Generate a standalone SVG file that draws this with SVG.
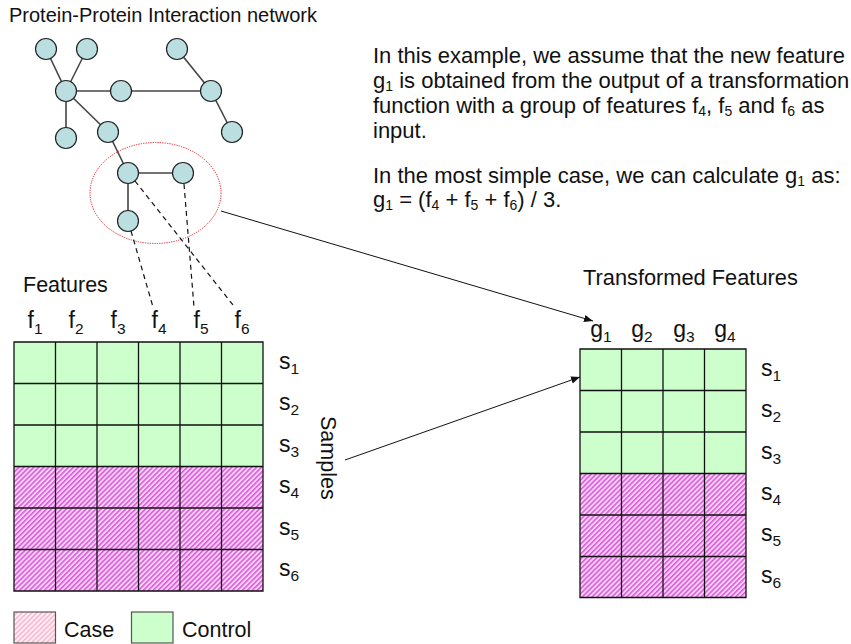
<svg xmlns="http://www.w3.org/2000/svg" width="851" height="644" viewBox="0 0 851 644">
<style>
text{font-family:"Liberation Sans",Arial,Helvetica,sans-serif;fill:#111}
.t21{font-size:21.5px}
.t22{font-size:22px}
.sub{font-size:14px}
.lsub{font-size:15.5px}
.lab{font-size:23px;text-anchor:middle}
.sl{font-size:23px}
.node{fill:#BBDFE1;stroke:#222;stroke-width:1.2}
.edge{stroke:#444;stroke-width:1.6;fill:none}
.dash{stroke:#111;stroke-width:1.2;stroke-dasharray:5,4;fill:none}
.ctrl{fill:#CCFFCC}
.case{fill:url(#hatch)}
.grid{stroke:#111;stroke-width:1.3;fill:none}
.arrow{stroke:#111;stroke-width:1;fill:none;marker-end:url(#ah)}
</style>
<defs>
<pattern id="hatch" width="3.5" height="3.5" patternUnits="userSpaceOnUse" patternTransform="rotate(45)">
<rect width="3.5" height="3.5" fill="#F8D4F8"/>
<line x1="0.8" y1="0" x2="0.8" y2="3.5" stroke="#DA48DA" stroke-width="1.4"/>
</pattern>
<pattern id="hatchL" width="3.5" height="3.5" patternUnits="userSpaceOnUse" patternTransform="rotate(45)">
<rect width="3.5" height="3.5" fill="#FFF2F7"/>
<line x1="0.8" y1="0" x2="0.8" y2="3.5" stroke="#FFA8C8" stroke-width="1.3"/>
</pattern>
<marker id="ah" viewBox="0 0 10 10" refX="10" refY="5" markerWidth="9" markerHeight="9" markerUnits="userSpaceOnUse" orient="auto">
<path d="M0,1 L10,5 L0,9 Z" fill="#111"/>
</marker>
</defs>

<text id="title" x="9" y="22" style="font-size:20px">Protein-Protein Interaction network</text>

<g id="network-edges">
<line class="edge" x1="46" y1="49" x2="66" y2="91"/>
<line class="edge" x1="87" y1="49" x2="66" y2="91"/>
<line class="edge" x1="66" y1="91" x2="121" y2="91"/>
<line class="edge" x1="121" y1="91" x2="211" y2="91"/>
<line class="edge" x1="177" y1="49" x2="211" y2="91"/>
<line class="edge" x1="211" y1="91" x2="232" y2="132"/>
<line class="edge" x1="66" y1="91" x2="66" y2="138"/>
<line class="edge" x1="66" y1="91" x2="108" y2="132"/>
<line class="edge" x1="108" y1="132" x2="128" y2="173"/>
<line class="edge" x1="128" y1="173" x2="183" y2="173"/>
<line class="edge" x1="128" y1="173" x2="128" y2="221"/>
</g>
<g id="network-nodes">
<circle id="n1" class="node" cx="46" cy="49" r="10.5"/>
<circle id="n2" class="node" cx="87" cy="49" r="10.5"/>
<circle id="n3" class="node" cx="177" cy="49" r="10.5"/>
<circle id="n4" class="node" cx="66" cy="91" r="10.5"/>
<circle id="n5" class="node" cx="121" cy="91" r="10.5"/>
<circle id="n6" class="node" cx="211" cy="91" r="10.5"/>
<circle id="n7" class="node" cx="66" cy="138" r="10.5"/>
<circle id="n8" class="node" cx="108" cy="132" r="10.5"/>
<circle id="n9" class="node" cx="232" cy="132" r="10.5"/>
<circle id="n10" class="node" cx="128" cy="173" r="10.5"/>
<circle id="n11" class="node" cx="183" cy="173" r="10.5"/>
<circle id="n12" class="node" cx="128" cy="221" r="10.5"/>
</g>
<ellipse id="selection" cx="155.5" cy="193" rx="65.5" ry="50.5" fill="none" stroke="#E8161B" stroke-width="1" stroke-dasharray="1.2,1.2"/>

<g id="text-block">
<text class="t22" x="373" y="63">In this example, we assume that the new feature</text>
<text class="t22" x="373" y="88">g<tspan class="sub" dy="3">1</tspan><tspan dy="-3"> is obtained from the output of a transformation</tspan></text>
<text class="t22" x="373" y="113">function with a group of features f<tspan class="sub" dy="3">4</tspan><tspan dy="-3">, f</tspan><tspan class="sub" dy="3">5</tspan><tspan dy="-3"> and f</tspan><tspan class="sub" dy="3">6</tspan><tspan dy="-3"> as</tspan></text>
<text class="t22" x="373" y="138">input.</text>
<text class="t22" x="373" y="183">In the most simple case, we can calculate g<tspan class="sub" dy="3">1</tspan><tspan dy="-3"> as:</tspan></text>
<text class="t22" x="373" y="207">g<tspan class="sub" dy="3">1</tspan><tspan dy="-3"> = (f</tspan><tspan class="sub" dy="3">4</tspan><tspan dy="-3"> + f</tspan><tspan class="sub" dy="3">5</tspan><tspan dy="-3"> + f</tspan><tspan class="sub" dy="3">6</tspan><tspan dy="-3">) / 3.</tspan></text>
</g>

<g id="features-matrix">
<text class="t21" x="23" y="292">Features</text>
<text class="lab" x="35" y="328">f<tspan class="lsub" dy="6">1</tspan></text>
<text class="lab" x="76" y="328">f<tspan class="lsub" dy="6">2</tspan></text>
<text class="lab" x="118" y="328">f<tspan class="lsub" dy="6">3</tspan></text>
<text class="lab" x="159" y="328">f<tspan class="lsub" dy="6">4</tspan></text>
<text class="lab" x="201" y="328">f<tspan class="lsub" dy="6">5</tspan></text>
<text class="lab" x="242" y="328">f<tspan class="lsub" dy="6">6</tspan></text>
<rect class="ctrl" x="14" y="342" width="249" height="124.5"/>
<rect class="case" x="14" y="466.5" width="249" height="124.5"/>
<path class="grid" d="M14,342H263V591H14Z M55.5,342V591 M97,342V591 M138.5,342V591 M180,342V591 M221.5,342V591 M14,383.5H263 M14,425H263 M14,466.5H263 M14,508H263 M14,549.5H263"/>
<text class="sl" x="279" y="369">s<tspan class="lsub" dy="5">1</tspan></text>
<text class="sl" x="279" y="410">s<tspan class="lsub" dy="5">2</tspan></text>
<text class="sl" x="279" y="452">s<tspan class="lsub" dy="5">3</tspan></text>
<text class="sl" x="279" y="493">s<tspan class="lsub" dy="5">4</tspan></text>
<text class="sl" x="279" y="535">s<tspan class="lsub" dy="5">5</tspan></text>
<text class="sl" x="279" y="576">s<tspan class="lsub" dy="5">6</tspan></text>
<text class="t21" transform="translate(321,416) rotate(90)">Samples</text>
</g>

<g id="transformed-matrix">
<text x="583" y="285" style="font-size:21.8px">Transformed Features</text>
<text class="lab" x="601" y="337">g<tspan class="lsub" dy="5">1</tspan></text>
<text class="lab" x="642" y="337">g<tspan class="lsub" dy="5">2</tspan></text>
<text class="lab" x="684" y="337">g<tspan class="lsub" dy="5">3</tspan></text>
<text class="lab" x="725" y="337">g<tspan class="lsub" dy="5">4</tspan></text>
<rect class="ctrl" x="580" y="349" width="166" height="124.5"/>
<rect class="case" x="580" y="473.5" width="166" height="124"/>
<path class="grid" d="M580,349H746V597.5H580Z M621.5,349V597.5 M663,349V597.5 M704.5,349V597.5 M580,390.5H746 M580,432H746 M580,473.5H746 M580,515H746 M580,556.5H746"/>
<text class="sl" x="761" y="376">s<tspan class="lsub" dy="5">1</tspan></text>
<text class="sl" x="761" y="417">s<tspan class="lsub" dy="5">2</tspan></text>
<text class="sl" x="761" y="459">s<tspan class="lsub" dy="5">3</tspan></text>
<text class="sl" x="761" y="500">s<tspan class="lsub" dy="5">4</tspan></text>
<text class="sl" x="761" y="541">s<tspan class="lsub" dy="5">5</tspan></text>
<text class="sl" x="761" y="583">s<tspan class="lsub" dy="5">6</tspan></text>
</g>

<g id="connectors">
<line class="dash" x1="131" y1="231" x2="153" y2="307"/>
<line class="dash" x1="184" y1="184" x2="194" y2="307"/>
<line class="dash" x1="135" y1="181" x2="233" y2="305"/>
<line class="arrow" x1="221" y1="211" x2="593" y2="321"/>
<line class="arrow" x1="345" y1="460" x2="580" y2="377"/>
</g>

<g id="legend">
<rect x="14" y="612" width="41.5" height="31" fill="url(#hatchL)" stroke="#555" stroke-width="1.2"/>
<text class="t21" x="64" y="637">Case</text>
<rect x="131.5" y="612" width="41.5" height="31" fill="#CCFFCC" stroke="#555" stroke-width="1.2"/>
<text class="t21" x="182" y="637">Control</text>
</g>
</svg>
